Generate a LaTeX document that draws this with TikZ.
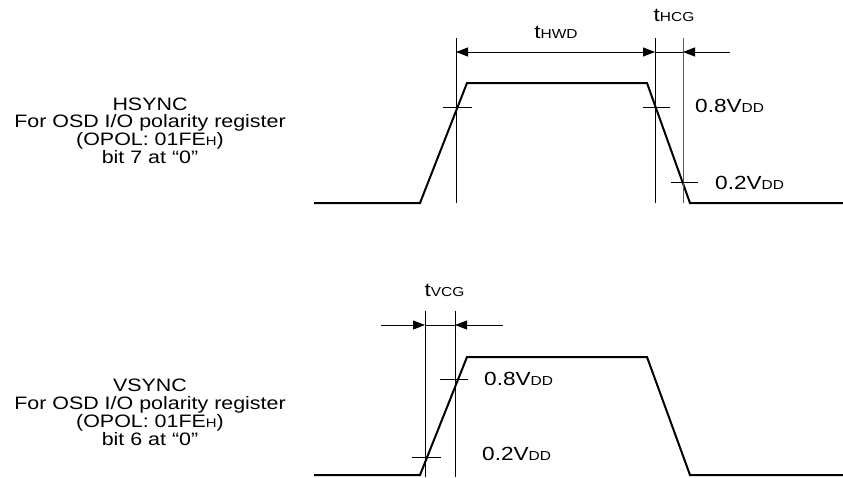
\documentclass[tikz,border=0pt]{standalone}
\usepackage{fontspec}
\setmainfont{Liberation Sans}[FakeStretch=1.19]
\usetikzlibrary{arrows.meta}
\newcommand{\sm}[1]{{\fontsize{13}{14}\selectfont #1}}
\newcommand{\smL}[1]{{\fontsize{12.5}{14}\selectfont #1}}
\begin{document}
\begin{tikzpicture}[x=1pt,y=-1pt,
  wave/.style={line width=2pt, line join=miter},
  thin/.style={line width=0.8pt},
  guide/.style={line width=0.8pt},
  dimtip/.style={-{Triangle[length=12pt,width=9pt]}, line width=0.8pt},
  dimboth/.style={{Triangle[length=12pt,width=9pt]}-{Triangle[length=12pt,width=9pt]}, line width=0.8pt},
  lbl/.style={inner sep=0pt, font=\fontsize{19}{21}\selectfont},
  lefttxt/.style={inner sep=0pt, align=center, font=\fontsize{18}{17.8}\selectfont}]
\useasboundingbox (0,0) rectangle (843,477);
% ---------- top waveform ----------
\coordinate (h0) at (314,203);
\coordinate (h1) at (420,203);
\coordinate (h2) at (467,83);
\coordinate (h3) at (647,83);
\coordinate (h4) at (690,203);
\coordinate (h5) at (843,203);
\draw[wave] (h0) -- (h1) -- (h2) -- (h3) -- (h4) -- (h5);
% guides
\coordinate (ga1) at (456,38); \coordinate (ga2) at (456,203);
\coordinate (gb1) at (655,38); \coordinate (gb2) at (655,203);
\coordinate (gc1) at (683,38); \coordinate (gc2) at (683,203);
\draw[guide] (ga1) -- (ga2);
\draw[guide] (gb1) -- (gb2);
\draw[guide, black!65] (gc1) -- (gc2);
% dimension lines
\coordinate (da) at (456,52); \coordinate (db) at (655,52);
\coordinate (dc) at (683,52); \coordinate (dd) at (730,52);
\draw[dimboth] (da) -- (db);
\draw[thin] (db) -- (dc);
\draw[dimtip] (dd) -- (dc);
% ticks
\coordinate (t1a) at (443,107); \coordinate (t1b) at (472,107);
\coordinate (t2a) at (643,107); \coordinate (t2b) at (670,107);
\coordinate (t3a) at (671,182); \coordinate (t3b) at (698,182);
\draw[thin] (t1a) -- (t1b);
\draw[thin] (t2a) -- (t2b);
\draw[thin] (t3a) -- (t3b);
% labels
\node[lbl, anchor=base] (thwd) at (556,38.5) {t\sm{HWD}};
\node[lbl, anchor=base] (thcg) at (674,21.7) {t\sm{HCG}};
\node[lbl, anchor=base west] (h08) at (695,112.5) {0.8V\sm{DD}};
\node[lbl, anchor=base west] (h02) at (715,189) {0.2V\sm{DD}};
\node[lefttxt, anchor=base] (hs) at (150,163.4) {HSYNC\\For OSD I/O polarity register\\(OPOL: 01FE\smL{H})\\bit 7 at “0”};
% ---------- bottom waveform ----------
\coordinate (v0) at (314,475);
\coordinate (v1) at (420,475);
\coordinate (v2) at (467,357);
\coordinate (v3) at (647,357);
\coordinate (v4) at (690,475);
\coordinate (v5) at (843,475);
\draw[wave] (v0) -- (v1) -- (v2) -- (v3) -- (v4) -- (v5);
\coordinate (gd1) at (425,311); \coordinate (gd2) at (425,477);
\coordinate (ge1) at (455,311); \coordinate (ge2) at (455,477);
\draw[guide] (gd1) -- (gd2);
\draw[guide] (ge1) -- (ge2);
\coordinate (ea) at (381,325); \coordinate (eb) at (425,325);
\coordinate (ec) at (455,325); \coordinate (ed) at (503,325);
\draw[dimtip] (ea) -- (eb);
\draw[thin] (eb) -- (ec);
\draw[dimtip] (ed) -- (ec);
\coordinate (t4a) at (440,379); \coordinate (t4b) at (468,379);
\coordinate (t5a) at (412,457); \coordinate (t5b) at (441,457);
\draw[thin] (t4a) -- (t4b);
\draw[thin] (t5a) -- (t5b);
\node[lbl, anchor=base] (tvcg) at (444.5,296.7) {t\sm{VCG}};
\node[lbl, anchor=base west] (v08) at (484,385.3) {0.8V\sm{DD}};
\node[lbl, anchor=base west] (v02) at (482,460.7) {0.2V\sm{DD}};
\node[lefttxt, anchor=base] (vs) at (150,445) {VSYNC\\For OSD I/O polarity register\\(OPOL: 01FE\smL{H})\\bit 6 at “0”};
\end{tikzpicture}
\end{document}
